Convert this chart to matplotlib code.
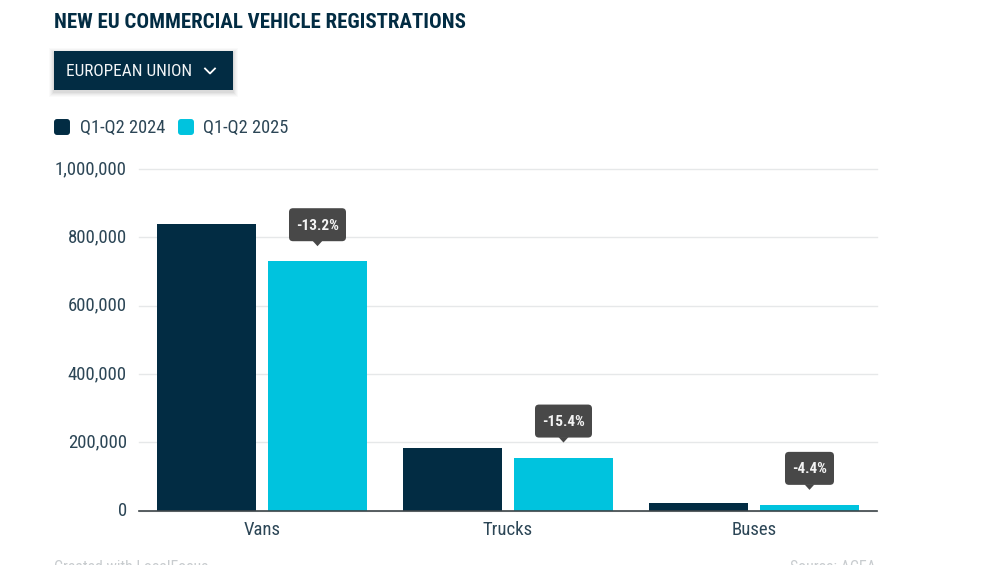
#!/bin/env python

import warnings
import numpy as np
import matplotlib as mpl
from matplotlib import pyplot as plt
from matplotlib.patches import FancyBboxPatch, Polygon, Rectangle

warnings.filterwarnings("ignore")

mpl.rcParams['font.family'] = ['Roboto Condensed', 'Liberation Sans Narrow', 'Roboto']

categories = ["Vans", "Trucks", "Buses"]
q2_2024 = [839000, 183000, 20500]
q2_2025 = [730000, 155000, 16500]
changes = ["-13.2%", "-15.4%", "-4.4%"]
yticks = [0, 200000, 400000, 600000, 800000, 1000000]
series_names = ["Q1-Q2 2024", "Q1-Q2 2025"]

navy = "#022c43"
cyan = "#00c3de"
text_col = "#2c4656"
W, H = 992, 565

fig = plt.figure(figsize=(W/100, H/100), dpi=100)
ax = fig.add_axes([139/W, 1-510.5/H, (877-139)/W, (510.5-169)/H])


def px(x, y):
    # figure pixels from the top left
    return x/W, 1-y/H


x = np.arange(len(categories))
ax.bar(x-0.2256, q2_2024, width=0.405, color=navy, zorder=3)
ax.bar(x+0.2256, q2_2025, width=0.405, color=cyan, zorder=3)

ax.set_xlim(-0.5, 2.5)
ax.set_ylim(0, 1000000)
ax.set_yticks(yticks)
ax.set_yticklabels(["{:,}".format(t) for t in yticks], va="center")
ax.set_xticks(x)
ax.set_xticklabels(categories)
ax.tick_params(axis="both", length=0, labelsize=13.5, labelcolor=text_col)
ax.tick_params(axis="y", pad=8.8)
ax.tick_params(axis="x", pad=7.6)
ax.grid(axis="y", color="#e6e8e9", lw=1.0, zorder=0)
ax.set_axisbelow(True)
for s in ["top", "left", "right"]:
    ax.spines[s].set_visible(False)
ax.spines["bottom"].set_color("#3c4448")
ax.spines["bottom"].set_linewidth(1.2)
ax.spines["bottom"].set_zorder(5)
# the gridline on the top edge must not be clipped
for line in ax.get_ygridlines():
    line.set_clip_on(False)

# change tooltips above the 2025 bars
for i, label in enumerate(changes):
    cx, cy = x[i]+0.2256, q2_2025[i]
    bx, by = ax.transData.transform((cx, cy))
    w = 57 if i < 2 else 49
    box = FancyBboxPatch((bx-w/2+3, by+20+3), w-6, 33-6, boxstyle="round,pad=3,rounding_size=4",
                         transform=None, fc="#484848", ec="none", zorder=6, clip_on=False)
    fig.add_artist(box)
    tip = Polygon([[bx-5, by+20.5], [bx+5, by+20.5], [bx, by+15]], closed=True, transform=None,
                  fc="#484848", ec="none", zorder=6, clip_on=False)
    fig.add_artist(tip)
    fig.text(bx/W, (by+35.5)/H, label, color="#f4f4f4", fontsize=11, fontweight="bold",
             ha="center", va="center", zorder=7)

# title
fig.text(*px(54.5, 22.5), "NEW EU COMMERCIAL VEHICLE REGISTRATIONS", color=navy, fontsize=15.07,
         fontweight="bold", ha="left", va="center")

# dropdown, soft shadow below it
for grow, a in [(5, 0.018), (4, 0.022), (3, 0.028), (2, 0.035), (1, 0.045)]:
    fig.add_artist(Rectangle(px(54-grow, 92+grow), (179+2*grow)/W, (39+2*grow)/H,
                             transform=fig.transFigure, fc="black", ec="none", alpha=a))
fig.add_artist(Rectangle(px(54, 90), 179/W, 39/H, transform=fig.transFigure, fc=navy, ec="none"))
fig.text(*px(66, 71.5), "EUROPEAN UNION", color="#f4f6f7", fontsize=12.4, ha="left", va="center")
fig.add_artist(plt.Line2D([px(205, 0)[0], px(210, 0)[0], px(215, 0)[0]],
                          [px(0, 68.5)[1], px(0, 73.5)[1], px(0, 68.5)[1]],
                          color="white", lw=1.3, transform=fig.transFigure))

# legend
for lx, col, name, tx in [(54, navy, series_names[0], 79.5), (178, cyan, series_names[1], 202.7)]:
    fig.add_artist(FancyBboxPatch(px(lx+2, 133), 12/W, 12/H, boxstyle="round,pad=0.002,rounding_size=0.003",
                                  transform=fig.transFigure, fc=col, ec="none", mutation_aspect=1.75))
    fig.text(*px(tx, 127.5), name, color=text_col, fontsize=13.2, ha="left", va="center")

# footer, cut by the bottom edge as in the source
fig.text(*px(54.5, 568), "Created with LocalFocus", color="#c8cccf", fontsize=11.4, ha="left", va="center")
fig.text(*px(876, 568), "Source: ACEA", color="#c8cccf", fontsize=11.4, ha="right", va="center")

fig.savefig("out.png", dpi=100)
